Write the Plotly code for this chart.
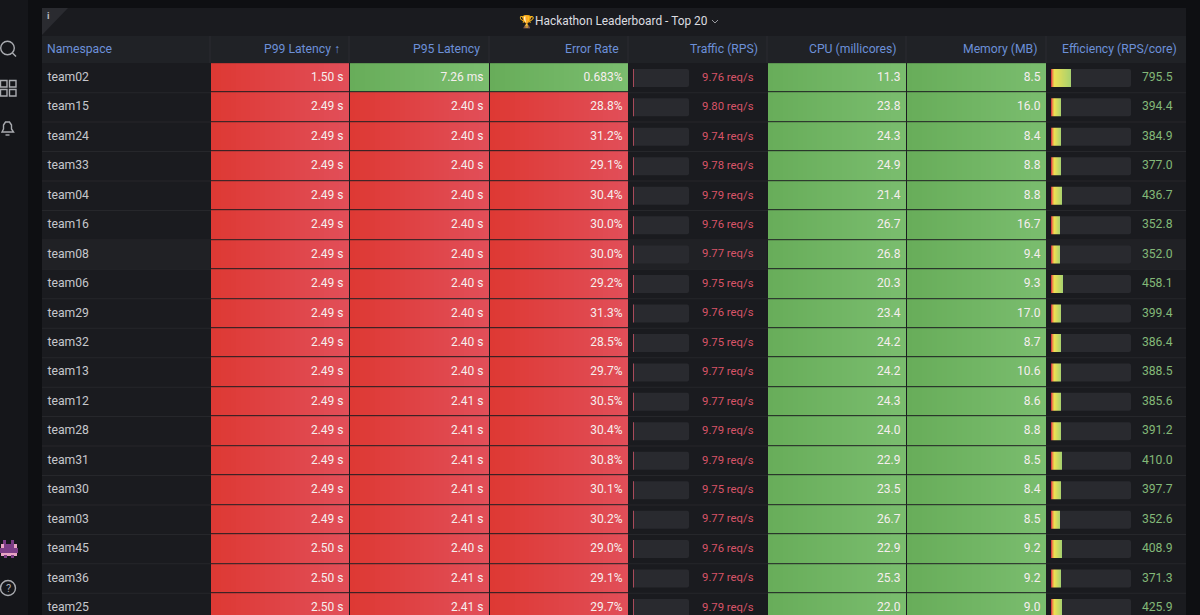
import plotly.graph_objects as go

# values
teams = ["team02", "team15", "team24", "team33", "team04", "team16", "team08", "team06", "team29", "team32",
         "team13", "team12", "team28", "team31", "team30", "team03", "team45", "team36", "team25"]
p99_s = [1.50, 2.49, 2.49, 2.49, 2.49, 2.49, 2.49, 2.49, 2.49, 2.49,
         2.49, 2.49, 2.49, 2.49, 2.49, 2.49, 2.50, 2.50, 2.50]
p95_s = [0.00726, 2.40, 2.40, 2.40, 2.40, 2.40, 2.40, 2.40, 2.40, 2.40,
         2.40, 2.41, 2.41, 2.41, 2.41, 2.41, 2.40, 2.41, 2.41]
error_pct = [0.683, 28.8, 31.2, 29.1, 30.4, 30.0, 30.0, 29.2, 31.3, 28.5,
             29.7, 30.5, 30.4, 30.8, 30.1, 30.2, 29.0, 29.1, 29.7]
traffic_rps = [9.76, 9.80, 9.74, 9.78, 9.79, 9.76, 9.77, 9.75, 9.76, 9.75,
               9.77, 9.77, 9.79, 9.79, 9.75, 9.77, 9.76, 9.77, 9.79]
cpu_m = [11.3, 23.8, 24.3, 24.9, 21.4, 26.7, 26.8, 20.3, 23.4, 24.2,
         24.2, 24.3, 24.0, 22.9, 23.5, 26.7, 22.9, 25.3, 22.0]
memory_mb = [8.5, 16.0, 8.4, 8.8, 8.8, 16.7, 9.4, 9.3, 17.0, 8.7,
             10.6, 8.6, 8.8, 8.5, 8.4, 8.5, 9.2, 9.2, 9.0]
efficiency = [795.5, 394.4, 384.9, 377.0, 436.7, 352.8, 352.0, 458.1, 399.4, 386.4,
              388.5, 385.6, 391.2, 410.0, 397.7, 352.6, 408.9, 371.3, 425.9]

headers = ["Namespace", "P99 Latency ↑", "P95 Latency", "Error Rate", "Traffic (RPS)",
           "CPU (millicores)", "Memory (MB)", "Efficiency (RPS/core)"]

W, H = 1200, 615
FONT = "Roboto"
PAGE = "#0e0f12"
SIDE = "#15161a"
PANEL = "#1a1b1f"
HEAD = "#202226"
LINE = "#26272b"
BLUE = "#6c90d8"
COL_X = [42, 210, 349, 489, 628, 767, 906, 1046, 1186]
ROW0_Y, ROW_H = 77.9, 29.45


def px(x):
    return x / W


def py(y):
    return 1 - y / H


def path(points, close=False):
    s = " ".join(("M" if i == 0 else "L") + f"{px(x):.5f},{py(y):.5f}" for i, (x, y) in enumerate(points))
    return s + (" Z" if close else "")


def ms_or_s(v):
    return f"{v * 1000:.2f} ms" if v < 1 else f"{v:.2f} s"


def pct(v):
    return f"{v:.3f}%" if v < 1 else f"{v:.1f}%"


def mix(c1, c2, t):
    return "#" + "".join(f"{round(a + (b - a) * t):02x}" for a, b in zip(c1, c2))


fig = go.Figure()
shapes = []
notes = []


def box(x0, y0, x1, y1, color, layer="below"):
    shapes.append(dict(type="rect", xref="paper", yref="paper", x0=px(x0), x1=px(x1), y0=py(y0), y1=py(y1),
                       fillcolor=color, line_width=0, layer=layer))


def stroke(pts, color="#a9abb0", width=1.4, close=False, fill=None):
    shapes.append(dict(type="path", xref="paper", yref="paper", path=path(pts, close),
                       line=dict(color=color, width=width), fillcolor=fill, layer="above"))


def ring(cx, cy, r, color="#a9abb0", width=1.4):
    shapes.append(dict(type="circle", xref="paper", yref="paper", x0=px(cx - r), x1=px(cx + r),
                       y0=py(cy - r), y1=py(cy + r), line=dict(color=color, width=width), layer="above"))


def note(x, y, text, color, size=12.5, anchor="center"):
    # annotations sit about 2px inside their anchor
    shift = {"left": -2.5, "right": 2, "center": 0}[anchor]
    notes.append(dict(xref="paper", yref="paper", x=px(x + shift), y=py(y), text=text, showarrow=False,
                      xanchor=anchor, yanchor="middle", font=dict(family=FONT, size=size, color=color)))


# page chrome
box(0, 0, 28, H, SIDE)
box(42, 8, 1186, H, PANEL)
box(42, 36, 1186, 63, HEAD)
for x in COL_X[1:-1]:
    box(x - 0.5, 36, x + 0.5, 63, "#2a2b30")
for i in range(1, len(teams) + 1):
    y = ROW0_Y + (i - 0.5) * ROW_H
    box(42, y - 0.5, 1186, y + 0.5, LINE)
box(42, ROW0_Y + 5.5 * ROW_H, 210, ROW0_Y + 6.5 * ROW_H, "#202125")
box(628, ROW0_Y + 5.5 * ROW_H, 767, ROW0_Y + 6.5 * ROW_H, "#202125")
box(1046, ROW0_Y + 5.5 * ROW_H, 1186, ROW0_Y + 6.5 * ROW_H, "#202125")
shapes.append(dict(type="path", xref="paper", yref="paper", path=path([(42, 8), (68, 8), (42, 35)], True),
                   fillcolor="#2a2b30", line_width=0, layer="below"))
note(48.5, 16, "<b>i</b>", "#b9babd", 9.5)

# sidebar icons
ring(7.5, 48, 6.8)
stroke([(12.5, 53), (16, 56.5)])
for gx in (0.5, 9.5):
    for gy in (80.5, 89.5):
        stroke([(gx, gy), (gx + 6.5, gy), (gx + 6.5, gy + 6.5), (gx, gy + 6.5)], close=True)
stroke([(2, 132), (3.5, 129), (3.5, 125), (5.5, 122), (9.5, 122), (11.5, 125), (11.5, 129), (13.5, 132)], close=True)
stroke([(5.5, 135), (9.5, 135)])
box(1, 544, 17, 556, "#e8a3c4", "above")
box(0, 548, 18, 553, "#7c3d86", "above")
box(3, 540, 6, 544, "#7c3d86", "above")
box(11, 540, 14, 544, "#7c3d86", "above")
box(4, 544, 14, 548, "#7c3d86", "above")
box(4, 555, 7, 558, "#7c3d86", "above")
box(11, 555, 14, 558, "#7c3d86", "above")
ring(8, 588, 7.5)
note(8, 588, "?", "#a9abb0", 11)

# title
note(527, 21, "🏆", "#d9a93a", 12.5)
note(535.5, 21, "Hackathon Leaderboard - Top 20", "#dcdde0", 11.9, "left")
stroke([(712, 20), (715, 23), (718, 20)], "#9a9ca1", 1)

# header row
note(47.5, 49, headers[0], BLUE, 12.2, "left")
for right, label in zip(COL_X[2:], headers[1:]):
    note(right - 9, 49, label, BLUE, 12.2, "right")

# coloured cells
RED_L, RED_R = (222, 57, 52), (225, 78, 88)
GREEN_L, GREEN_R = (104, 173, 90), (122, 189, 110)
scale = [[0, mix(RED_L, RED_L, 0)], [0.49, mix(RED_R, RED_R, 0)], [0.51, mix(GREEN_L, GREEN_L, 0)], [1, mix(GREEN_R, GREEN_R, 0)]]
STEPS = 28


def cells(left, right, values, is_ok, fmt):
    edges = [left + 1 + (right - left - 1) * i / STEPS for i in range(STEPS + 1)]
    z = []
    for v in values:
        off = 0.51 if is_ok(v) else 0
        z.append([off + 0.49 * i / (STEPS - 1) for i in range(STEPS)])
    fig.add_trace(go.Heatmap(x=edges, y=teams, z=z, zmin=0, zmax=1, colorscale=scale, showscale=False,
                             ygap=1, hoverinfo="skip", xaxis="x", yaxis="y"))
    fig.add_trace(go.Scatter(x=[right - 5.5] * len(values), y=teams, mode="text", text=[fmt(v) for v in values],
                             textposition="middle left", hoverinfo="skip",
                             textfont=dict(family=FONT, size=12, color="#f6eeee"), xaxis="x", yaxis="y"))


cells(COL_X[1], COL_X[2], p99_s, lambda v: v < 1, ms_or_s)
cells(COL_X[2], COL_X[3], p95_s, lambda v: v < 1, ms_or_s)
cells(COL_X[3], COL_X[4], error_pct, lambda v: v < 1, pct)
cells(COL_X[5], COL_X[6], cpu_m, lambda v: True, lambda v: f"{v:.1f}")
cells(COL_X[6], COL_X[7], memory_mb, lambda v: True, lambda v: f"{v:.1f}")

# namespace column
fig.add_trace(go.Scatter(x=[47.5] * len(teams), y=teams, mode="text", text=teams, textposition="middle right",
                         hoverinfo="skip", textfont=dict(family=FONT, size=12.2, color="#c6c7cc"),
                         xaxis="x", yaxis="y"))

# traffic gauge
TRAFFIC_MAX, EFF_MAX = 700, 3200
BAR_W = 0.61
fig.add_trace(go.Bar(x=[TRAFFIC_MAX] * len(teams), y=teams, orientation="h", width=BAR_W, marker_color="#292a2f",
                     marker_line_width=0, marker_cornerradius=2, hoverinfo="skip", xaxis="x2", yaxis="y"))
fig.add_trace(go.Bar(x=traffic_rps, y=teams, orientation="h", width=BAR_W, marker_color="#a84a5a",
                     marker_line_width=0, hoverinfo="skip", xaxis="x2", yaxis="y"))
fig.add_trace(go.Scatter(x=[753.5] * len(teams), y=teams, mode="text", text=[f"{v:.2f} req/s" for v in traffic_rps],
                         textposition="middle left", hoverinfo="skip",
                         textfont=dict(family=FONT, size=11.3, color="#d85468"), xaxis="x", yaxis="y"))

# efficiency gauge, bar cut in slices so it can carry the gradient
fig.add_trace(go.Bar(x=[EFF_MAX] * len(teams), y=teams, orientation="h", width=BAR_W, marker_color="#292a2f",
                     marker_line_width=0, marker_cornerradius=2, hoverinfo="skip", xaxis="x3", yaxis="y"))
STOPS = [(0, (214, 66, 70)), (50, (240, 160, 70)), (120, (236, 224, 84))]
END_COLOR = (165, 208, 112)


def ramp(pos, v):
    for (a, ca), (b, cb) in zip(STOPS, STOPS[1:]):
        if pos <= b:
            return mix(ca, cb, (pos - a) / (b - a))
    return mix(STOPS[-1][1], END_COLOR, (pos - 120) / (v - 120))


seg_y, seg_x, seg_base, seg_color = [], [], [], []
SLICE = 40
for team, v in zip(teams, efficiency):
    start = 0
    while start < v:
        seg_y.append(team)
        seg_base.append(start)
        seg_x.append(min(SLICE, v - start))
        seg_color.append(ramp(start, v))
        start += SLICE
fig.add_trace(go.Bar(x=seg_x, y=seg_y, base=seg_base, orientation="h", width=BAR_W, marker_color=seg_color,
                     marker_line_width=0, hoverinfo="skip", xaxis="x3", yaxis="y"))
fig.add_trace(go.Scatter(x=[1172.5] * len(teams), y=teams, mode="text", text=[f"{v:.1f}" for v in efficiency],
                         textposition="middle left", hoverinfo="skip",
                         textfont=dict(family=FONT, size=12.2, color="#83b878"), xaxis="x", yaxis="y"))

hidden = dict(visible=False, fixedrange=True)
fig.update_layout(
    width=W, height=H, margin=dict(l=0, r=0, t=0, b=0), showlegend=False, barmode="overlay",
    paper_bgcolor=PAGE, plot_bgcolor="rgba(0,0,0,0)", shapes=shapes, annotations=notes,
    xaxis=dict(range=[0, W], domain=[0, 1], **hidden),
    xaxis2=dict(range=[0, TRAFFIC_MAX], domain=[px(633), px(689)], anchor="y", **hidden),
    xaxis3=dict(range=[0, EFF_MAX], domain=[px(1051), px(1131)], anchor="y", **hidden),
    yaxis=dict(type="category", categoryorder="array", categoryarray=teams,
               range=[(H - ROW0_Y) / ROW_H, -ROW0_Y / ROW_H], domain=[0, 1], anchor="x", **hidden),
)

fig.write_html("out.html", config=dict(displayModeBar=False),
               post_script="document.body.style.margin='0';document.body.style.background='" + PAGE + "';")
